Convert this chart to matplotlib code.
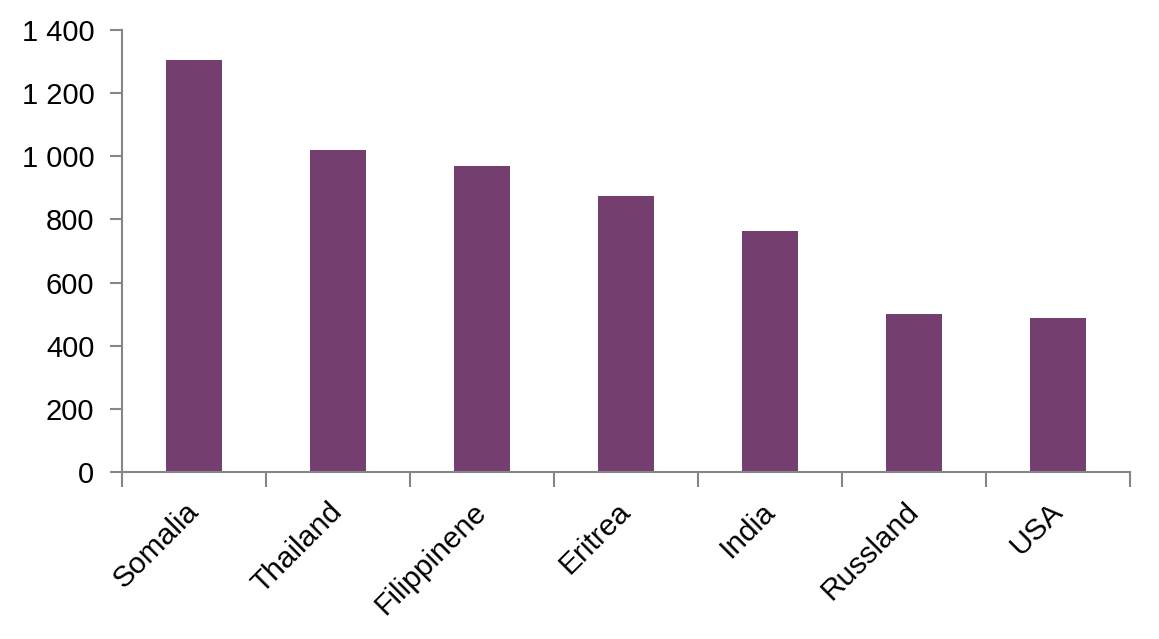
import matplotlib
matplotlib.use('Agg')
from matplotlib import pyplot as plt
from matplotlib.ticker import FuncFormatter
import numpy as np

countries = ['Somalia', 'Thailand', 'Filippinene', 'Eritrea', 'India', 'Russland', 'USA']
values = [1304, 1020, 969, 874, 763, 501, 489]
yticks = [0, 200, 400, 600, 800, 1000, 1200, 1400]

plt.rcParams['font.family'] = ['Liberation Sans', 'DejaVu Sans']

bar_color = '#743E6E'
axis_color = '#868686'

fig = plt.figure(figsize=(11.59, 6.39), dpi=100)
ax = fig.add_axes([0.1053, 0.2606, 0.8697, 0.6929])

x = np.arange(len(countries))
ax.bar(x, values, width=0.39, color=bar_color)

ax.set_xlim(-0.5, len(countries) - 0.5)
ax.set_ylim(0, 1400)
ax.set_yticks(yticks)
ax.yaxis.set_major_formatter(FuncFormatter(lambda v, p: f'{int(v):,}'.replace(',', ' ')))

# ticks between the categories, labels at the centres
ax.set_xticks(np.arange(-0.5, len(countries)), minor=False)
ax.set_xticklabels([])
ax.set_xticks(x, minor=True)
ax.set_xticklabels(countries, minor=True, rotation=45, ha='right', va='center',
                   rotation_mode='anchor', fontsize=21.5)
ax.tick_params(axis='x', which='minor', length=0, pad=25)
ax.tick_params(axis='x', which='major', length=11, width=1.5, color=axis_color, direction='out')
ax.tick_params(axis='y', length=9, width=1.5, color=axis_color, direction='out', pad=11,
               labelsize=21)

for s in ['top', 'right']:
    ax.spines[s].set_visible(False)
for s in ['left', 'bottom']:
    ax.spines[s].set_color(axis_color)
    ax.spines[s].set_linewidth(1.5)

fig.savefig('out.png', dpi=100)
